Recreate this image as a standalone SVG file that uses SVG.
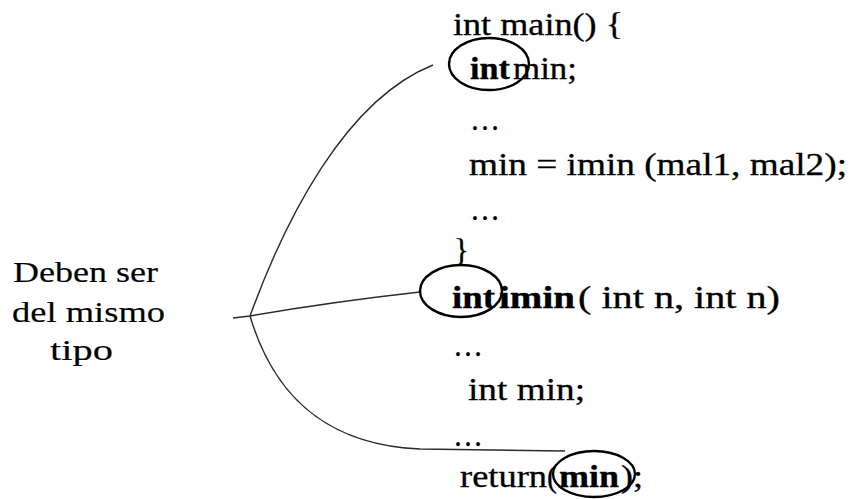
<svg xmlns="http://www.w3.org/2000/svg" width="852" height="499" viewBox="0 0 852 499">
<style>
text{font-family:"Liberation Serif","Times New Roman",Tinos,"DejaVu Serif",serif;font-size:31px;fill:#000;stroke:#000;stroke-width:0.3}
.b{font-weight:bold}
.lbl{font-size:29px;stroke-width:0.15}
.conn{fill:none;stroke:#2a2a2a;stroke-width:1.4}
.ring{fill:none;stroke:#000;stroke-width:2.4}
</style>
<rect width="852" height="499" fill="#fff"/>
<g id="label">
<text class="lbl" x="13" y="282" textLength="145" lengthAdjust="spacingAndGlyphs">Deben ser</text>
<text class="lbl" x="12" y="322" textLength="153" lengthAdjust="spacingAndGlyphs">del mismo</text>
<text class="lbl" x="50" y="360" textLength="63" lengthAdjust="spacingAndGlyphs">tipo</text>
</g>
<g id="connectors">
<path class="conn" d="M250,316 C285,220 345,100 433,65"/>
<path class="conn" d="M233,318 L250,316 Q330,302 420,292"/>
<path class="conn" d="M250,316 C275,400 330,445 420,449 L565,451"/>
</g>
<g id="code">
<text x="453" y="35" textLength="170" lengthAdjust="spacingAndGlyphs">int main() {</text>
<text class="b" x="470" y="79" textLength="40" lengthAdjust="spacingAndGlyphs">int</text>
<text x="513" y="79" textLength="64" lengthAdjust="spacingAndGlyphs">min;</text>
<text x="470" y="130" textLength="30" lengthAdjust="spacingAndGlyphs">…</text>
<text x="469" y="175" textLength="378" lengthAdjust="spacingAndGlyphs">min = imin (mal1, mal2);</text>
<text x="470" y="220" textLength="30" lengthAdjust="spacingAndGlyphs">…</text>
<text x="454" y="261">}</text>
<text class="b" x="452" y="308" textLength="43" lengthAdjust="spacingAndGlyphs">int</text>
<text class="b" x="499" y="308" textLength="76" lengthAdjust="spacingAndGlyphs">imin</text>
<text x="578" y="308" textLength="202" lengthAdjust="spacingAndGlyphs">( int n, int n)</text>
<text x="453" y="356" textLength="30" lengthAdjust="spacingAndGlyphs">…</text>
<text x="468" y="400" textLength="117" lengthAdjust="spacingAndGlyphs">int min;</text>
<text x="453" y="446" textLength="30" lengthAdjust="spacingAndGlyphs">…</text>
<text x="460" y="487" textLength="87" lengthAdjust="spacingAndGlyphs">return</text>
<text x="547" y="487" textLength="10" lengthAdjust="spacingAndGlyphs">(</text>
<text class="b" x="559" y="487" textLength="60" lengthAdjust="spacingAndGlyphs">min</text>
<text x="621" y="487" textLength="22" lengthAdjust="spacingAndGlyphs">);</text>
</g>
<g id="ring-main-int"><ellipse class="ring" cx="489" cy="64" rx="40" ry="26"/></g>
<g id="ring-imin-int"><ellipse class="ring" cx="461" cy="291" rx="41" ry="26"/></g>
<g id="ring-return-min"><ellipse class="ring" cx="594" cy="474" rx="41" ry="23"/></g>
</svg>
